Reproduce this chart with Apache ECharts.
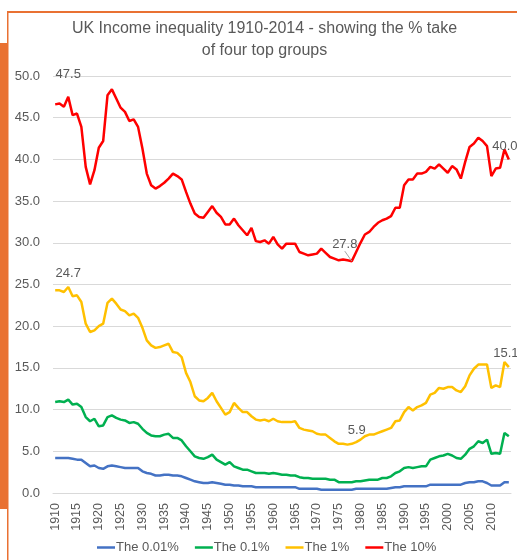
<!DOCTYPE html>
<html><head><meta charset="utf-8">
<script src="https://cdn.jsdelivr.net/npm/echarts@6/dist/echarts.min.js"></script>
<style>html,body{margin:0;padding:0;background:#fff}#c{width:517px;height:560px}</style>
</head><body><div id="c"></div>
<script>
var years = [];
for (var y = 1910; y <= 2014; y++) years.push(String(y));

var top10 = [46.6,46.7,46.3,47.5,45.3,45.5,43.9,39.1,37.0,38.7,
41.4,42.2,47.7,48.4,47.3,46.2,45.7,44.6,44.8,43.9,
41.3,38.3,36.9,36.5,36.8,37.2,37.7,38.3,38.0,37.6,
36.1,34.7,33.5,33.1,33.0,33.7,34.4,33.6,33.1,32.2,
32.2,32.9,32.1,31.5,30.9,31.8,30.2,30.1,30.3,29.9,
30.7,29.8,29.3,29.9,29.9,29.9,28.9,28.7,28.5,28.6,
28.7,29.3,28.8,28.3,28.1,27.9,28.0,27.9,27.8,28.9,
30.0,31.0,31.3,31.9,32.4,32.7,32.9,33.2,34.2,34.2,
36.9,37.6,37.6,38.3,38.3,38.5,39.1,38.9,39.4,38.9,
38.4,39.2,38.8,37.7,39.7,41.5,41.9,42.6,42.2,41.6,
38.0,38.9,39.0,41.2,40.0];

var top1 = [24.3,24.3,24.1,24.7,23.6,23.7,22.9,20.3,19.3,19.5,
20.0,20.3,22.8,23.3,22.7,22.0,21.8,21.3,21.5,21.0,
19.8,18.3,17.7,17.4,17.5,17.7,17.9,16.9,16.8,16.3,
14.4,13.3,11.6,11.1,11.0,11.4,12.0,11.0,10.2,9.4,
9.7,10.8,10.2,9.7,9.7,9.2,8.8,8.7,8.8,8.6,
8.9,8.6,8.5,8.5,8.5,8.6,7.8,7.6,7.5,7.4,
7.1,7.0,7.0,6.6,6.2,5.9,5.9,5.8,5.9,6.1,
6.4,6.8,7.0,7.0,7.2,7.4,7.6,7.8,8.6,8.7,
9.7,10.3,9.9,10.3,10.5,10.8,11.8,12.0,12.6,12.5,
12.7,12.7,12.3,12.1,12.8,14.1,14.9,15.4,15.4,15.4,
12.6,12.9,12.7,15.7,15.1];

var top01 = [10.9,11.0,10.9,11.2,10.6,10.7,10.3,9.1,8.6,8.9,
8.0,8.1,9.1,9.3,9.0,8.8,8.7,8.4,8.5,8.3,
7.7,7.2,6.9,6.8,6.8,7.0,7.1,6.6,6.6,6.3,
5.6,5.0,4.4,4.2,4.1,4.3,4.6,4.0,3.7,3.4,
3.7,3.2,3.0,2.8,2.8,2.6,2.4,2.4,2.4,2.3,
2.4,2.3,2.2,2.2,2.1,2.1,1.9,1.8,1.8,1.7,
1.7,1.7,1.7,1.6,1.6,1.3,1.3,1.3,1.3,1.4,
1.4,1.5,1.6,1.6,1.6,1.8,1.8,2.0,2.4,2.6,
3.0,3.1,3.0,3.1,3.2,3.2,4.0,4.2,4.4,4.5,
4.7,4.5,4.2,4.1,4.6,5.3,5.6,6.2,6.0,6.4,
4.7,4.8,4.7,7.2,6.8];

var top001 = [4.2,4.2,4.2,4.2,4.1,4.0,4.0,3.6,3.2,3.3,
3.0,2.9,3.2,3.3,3.2,3.1,3.0,3.0,3.0,3.0,
2.6,2.4,2.3,2.1,2.1,2.2,2.2,2.1,2.1,2.0,
1.8,1.6,1.4,1.3,1.2,1.2,1.3,1.2,1.1,1.0,
1.0,0.9,0.9,0.8,0.8,0.8,0.7,0.7,0.7,0.7,
0.7,0.7,0.7,0.7,0.7,0.7,0.5,0.5,0.5,0.5,
0.5,0.4,0.4,0.4,0.4,0.4,0.4,0.4,0.4,0.5,
0.5,0.5,0.5,0.5,0.5,0.5,0.5,0.6,0.7,0.7,
0.8,0.8,0.8,0.8,0.8,0.8,1.0,1.0,1.0,1.0,
1.0,1.0,1.0,1.0,1.2,1.3,1.3,1.4,1.4,1.2,
0.9,0.9,0.9,1.3,1.3];

var seriesNames = ['The 0.01%', 'The 0.1%', 'The 1%', 'The 10%'];
var seriesColors = ['#4472C4', '#00B050', '#FFC000', '#FF0000'];
var titleLines = ['UK Income inequality 1910-2014 - showing the % take', 'of four top groups'];

// labelled points: index -> [dx, dy] moves of the label
var labelsTop10 = {3: [0, -11], 68: [-7, -5], 104: [-4, -1]};
var labelsTop1 = {3: [0, -2], 68: [5, -2], 104: [-3, -2]};
var leaderLines = {3: {68: true}};

var font = 'Liberation Sans';
function mkData(arr, labels, leaders) {
  return arr.map(function (v, i) {
    if (labels[i]) {
      var item = {value: v, label: {show: true, position: 'top',
        formatter: function (p) { return p.value.toFixed(1); },
        color: '#595959', fontSize: 13, fontFamily: font}};
      if (leaders[i]) item.labelLine = {show: true, length2: 0, lineStyle: {color: '#A6A6A6', width: 1}};
      return item;
    }
    return v;
  });
}

var chart = echarts.init(document.getElementById('c'), null, {renderer: 'canvas'});
var datasets = [top001, top01, top1, top10];
var labelSets = [{}, {}, labelsTop1, labelsTop10];
chart.setOption({
  animation: false,
  backgroundColor: '#fff',
  legend: {
    top: 536, left: 92,
    icon: 'rect', itemWidth: 18, itemHeight: 2.5, itemGap: 16,
    textStyle: {fontSize: 13, color: '#595959', fontFamily: font, padding: [0, 0, 0, -4]},
    data: seriesNames
  },
  grid: {left: 53, right: 6, top: 76, bottom: 67, containLabel: false},
  xAxis: {
    type: 'category', data: years, boundaryGap: true,
    axisLine: {show: true, lineStyle: {color: '#D9D9D9'}},
    axisTick: {show: false},
    axisLabel: {interval: 4, rotate: 90, color: '#595959', fontSize: 12.5, fontFamily: font, margin: 10}
  },
  yAxis: {
    type: 'value', min: 0, max: 50, interval: 5,
    axisLine: {show: false}, axisTick: {show: false},
    splitLine: {lineStyle: {color: '#D9D9D9', width: 1}},
    axisLabel: {color: '#595959', fontSize: 13, fontFamily: font, margin: 13,
      formatter: function (v) { return v.toFixed(1); }}
  },
  series: datasets.map(function (d, k) {
    var labels = labelSets[k];
    return {
      name: seriesNames[k], type: 'line', data: mkData(d, labels, leaderLines[k] || {}),
      symbol: 'circle', symbolSize: 0.01, showSymbol: true, smooth: false,
      lineStyle: {color: seriesColors[k], width: 2.5},
      itemStyle: {color: seriesColors[k]},
      labelLayout: function (p) {
        var m = labels[p.dataIndex];
        return m ? {dx: m[0], dy: m[1], hideOverlap: false} : {};
      },
      z: 2 + k
    };
  }),
  graphic: [
    {type: 'rect', shape: {x: 7, y: 11, width: 510, height: 2}, style: {fill: '#E97132'}},
    {type: 'rect', shape: {x: 7, y: 11, width: 1.5, height: 549}, style: {fill: '#E97132'}},
    {type: 'rect', shape: {x: 0, y: 43, width: 7, height: 466}, style: {fill: '#E97132'}},
    {type: 'text', x: 264.5, y: 29, style: {text: titleLines[0], fill: '#595959', font: '16px "Liberation Sans"', textAlign: 'center', textVerticalAlign: 'middle'}},
    {type: 'text', x: 264.5, y: 51, style: {text: titleLines[1], fill: '#595959', font: '16px "Liberation Sans"', textAlign: 'center', textVerticalAlign: 'middle'}}
  ]
});
</script></body></html>
